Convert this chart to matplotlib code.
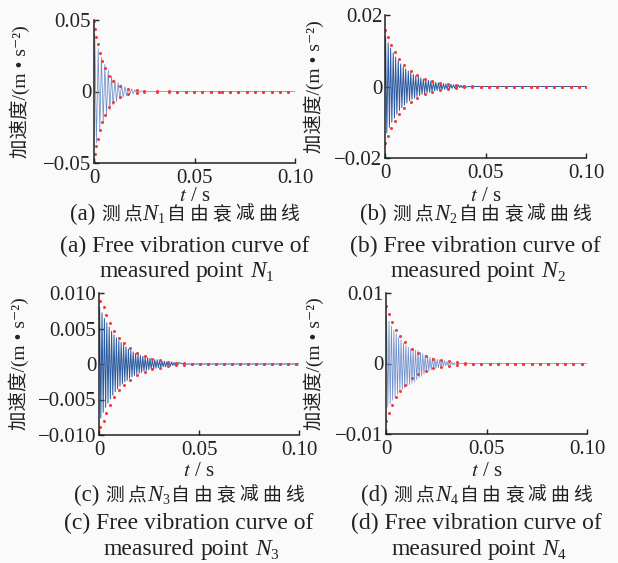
import numpy as np
import matplotlib
matplotlib.use('Agg')
import matplotlib.pyplot as plt

W, H = 618, 563
SERIF = 'Liberation Serif'
CJK = 'Noto Sans CJK SC'

# time in ms, acceleration in m/s^2 (extrema of the free-decay signals)
a_t = [0, 0.4, 1.2, 2.1, 2.9, 3.7, 4.6, 5.4, 6.2, 7.1, 7.9, 8.7, 9.5, 10.4, 11.2, 12.0,
       12.9, 13.7, 14.5, 15.4, 16.2, 17.0, 17.8, 18.7, 19.5, 20.3, 21.2, 22.0, 22.8, 23.7, 25, 100]
a_acc = [0, 0.040, -0.036, 0.030, -0.027, 0.024, -0.021, 0.019, -0.017, 0.015, -0.013, 0.011,
         -0.0095, 0.0082, -0.0071, 0.0062, -0.0053, 0.0046, -0.004, 0.0034, -0.0029, 0.0025,
         -0.0021, 0.0018, -0.0015, 0.0012, -0.001, 0.0008, -0.0006, 0.0004, 0, 0]
a_env_t = [0, 0.5, 1.2, 2.0, 3.0, 4.1, 5.6, 7.5, 9.6, 12.9, 17.1, 21.2, 24.9, 31.2, 37.2,
           41.4, 45.6, 49.7, 53.9, 58.0, 62.2, 63.6, 67.7, 71.8, 76.0, 80.1, 84.3, 88.4, 92.5, 96.7]
a_env = [0.0495, 0.044, 0.038, 0.033, 0.027, 0.0215, 0.0166, 0.0108, 0.0073, 0.0038,
         0.0017, 0.0008, 0.0004, 0.0002, 0.0001, 0, 0, 0, 0, 0, 0, 0, 0, 0, 0, 0, 0, 0, 0, 0]

b_t = [0, 0.3, 0.9, 1.6, 2.2, 2.8, 3.4, 4.1, 4.7, 5.3, 5.9, 6.6, 7.2, 7.8, 8.4, 9.1, 9.7, 10.3,
       10.9, 11.6, 12.2, 12.8, 13.4, 14.1, 14.7, 15.3, 15.9, 16.6, 17.2, 17.8, 18.4, 19.1, 19.7,
       20.3, 20.9, 21.6, 22.2, 22.8, 23.4, 24.1, 24.7, 25.3, 25.9, 26.6, 27.2, 27.8, 28.4, 29.1,
       29.7, 30.3, 30.9, 31.6, 32.2, 32.8, 33.4, 34.1, 34.7, 35.3, 35.9, 36.6, 37.2, 37.8, 38.4,
       39.1, 39.7, 42, 100]
b_acc = [0,
         0.0140, -0.0130, 0.0122, -0.0114, 0.0107, -0.0100, 0.0094, -0.0088, 0.0082, -0.0077,
         0.0072, -0.0067, 0.0063, -0.0059, 0.0055, -0.0052, 0.0049, -0.0046, 0.0043, -0.0040,
         0.0038, -0.0036, 0.0034, -0.0032, 0.0030, -0.0028, 0.0027, -0.0025, 0.0024, -0.0022,
         0.0021, -0.0020, 0.0019, -0.0018, 0.0017, -0.0016, 0.0015, -0.0014, 0.0013, -0.0012,
         0.0012, -0.0011, 0.0010, -0.0010, 0.0009, -0.0009, 0.0008, -0.0008, 0.0007, -0.0007,
         0.0006, -0.0006, 0.0006, -0.0005, 0.0005, -0.0005, 0.0004, -0.0004, 0.0004, -0.0003,
         0.0003, -0.0003, 0.0003, -0.0002,
         0, 0]
b_env_t = [0, 1.3, 3.0, 4.8, 7.1, 9.6, 12.8, 16.1, 19.7, 23.5, 27.4, 31.3, 35.3, 39.3, 43.3,
           47.6, 51.6, 55.8, 60.0, 64.2, 68.3, 72.5, 75.8, 80.0, 84.2, 88.3, 92.5, 96.7, 100.0]
b_env = [0.0158, 0.0138, 0.0117, 0.0096, 0.0077, 0.006, 0.0044, 0.0032, 0.0022, 0.0015,
         0.0011, 0.0007, 0.0004, 0.0002, 0.0001, 0, 0, 0, 0, 0, 0, 0, 0, 0, 0, 0, 0, 0, 0]

c_t = [0, 0.3, 0.9, 1.5, 2.1, 2.7, 3.3, 3.9, 4.5, 5.1, 5.7, 6.3, 6.9, 7.5, 8.1, 8.7, 9.3, 9.9,
       10.5, 11.1, 11.7, 12.3, 12.9, 13.5, 14.1, 14.7, 15.3, 15.9, 16.5, 17.1, 17.7, 18.3, 18.9,
       19.5, 20.1, 20.7, 21.3, 21.9, 22.5, 23.1, 23.7, 24.3, 24.9, 25.5, 26.1, 26.7, 27.3, 27.9,
       28.5, 29.1, 29.7, 30.3, 30.9, 31.5, 32.1, 32.7, 33.3, 33.9, 34.5, 35.1, 35.7, 36.3, 36.9,
       37.5, 38.1, 38.7, 39.3, 39.9, 42, 100]
c_acc = [0,
         0.0080, -0.0076, 0.0072, -0.0068, 0.0064, -0.0061, 0.0058, -0.0055, 0.0052, -0.0049,
         0.0046, -0.0044, 0.0041, -0.0039, 0.0037, -0.0035, 0.0033, -0.0031, 0.0030, -0.0028,
         0.0027, -0.0025, 0.0024, -0.0023, 0.0021, -0.0020, 0.0019, -0.0018, 0.0017, -0.0016,
         0.0015, -0.0014, 0.0014, -0.0013, 0.0012, -0.0012, 0.0011, -0.0010, 0.0010, -0.0009,
         0.0009, -0.0008, 0.0008, -0.0007, 0.0007, -0.0007, 0.0006, -0.0006, 0.0006, -0.0005,
         0.0005, -0.0005, 0.0004, -0.0004, 0.0004, -0.0004, 0.0003, -0.0003, 0.0003, -0.0003,
         0.0003, -0.0002, 0.0002, -0.0002, 0.0002, -0.0002, 0.0002,
         0, 0]
c_env_t = [0, 0.65, 2.3, 3.65, 5.3, 7.5, 9.8, 12.5, 15.5, 19.0, 22.8, 26.7, 30.3, 34.3, 38.3,
           42.3, 46.6, 50.6, 54.6, 58.6, 62.6, 66.6, 70.6, 74.6, 78.6, 82.6, 86.6, 90.6, 94.6, 98.6]
c_env = [0.0100, 0.0089, 0.0080, 0.0069, 0.0058, 0.0047, 0.0037, 0.0029, 0.0023, 0.0016,
         0.0011, 0.0007, 0.0005, 0.0003, 0.0002, 0.0001, 0, 0, 0, 0, 0, 0, 0, 0, 0, 0, 0, 0, 0, 0]

d_t = [0, 0.3, 0.9, 1.5, 2.1, 2.7, 3.3, 3.9, 4.5, 5.1, 5.7, 6.3, 6.9, 7.5, 8.1, 8.7, 9.3, 9.9,
       10.5, 11.1, 11.7, 12.3, 12.9, 13.5, 14.1, 14.7, 15.3, 15.9, 16.5, 17.1, 17.7, 18.3, 18.9,
       19.5, 20.1, 20.7, 21.3, 21.9, 22.5, 23.1, 23.7, 24.3, 24.9, 25.5, 26.1, 26.7, 27.3, 27.9,
       28.5, 29.1, 29.7, 30.3, 30.9, 31.5, 32.1, 32.7, 33.3, 33.9, 34.5, 37, 100]
d_acc = [0,
         0.0068, -0.0062, 0.0060, -0.0057, 0.0053, -0.0052, 0.0047, -0.0048, 0.0042, -0.0044,
         0.0037, -0.0040, 0.0033, -0.0037, 0.0029, -0.0034, 0.0026, -0.0032, 0.0023, -0.0030,
         0.0021, -0.0028, 0.0020, -0.0026, 0.0019, -0.0023, 0.0018, -0.0020, 0.0016, -0.0018,
         0.0014, -0.0015, 0.0012, -0.0013, 0.0010, -0.0011, 0.0009, -0.0009, 0.0008, -0.0008,
         0.0007, -0.0007, 0.0006, -0.0006, 0.0005, -0.0005, 0.0004, -0.0004, 0.0004, -0.0003,
         0.0003, -0.0003, 0.0002, -0.0002, 0.0002, -0.0002, 0.0001, -0.0001,
         0, 0]
d_env_t = [0, 1.3, 3.0, 4.8, 7.1, 9.6, 12.8, 16.1, 19.9, 23.6, 27.4, 31.4, 35.2, 39.4, 43.5,
           47.5, 51.7, 55.8, 60.0, 64.2, 68.3, 72.5, 76.6, 80.7, 84.9, 89.0, 93.2, 97.3]
d_env = [0.0081, 0.0070, 0.0059, 0.0048, 0.0039, 0.0030, 0.0021, 0.0015, 0.0011, 0.0007,
         0.0005, 0.0004, 0.0002, 0.0001, 0, 0, 0, 0, 0, 0, 0, 0, 0, 0, 0, 0, 0, 0]

x_ticks = [0, 0.05, 0.10]
x_ticklabels = ['0', '0.05', '0.10']
a_yticks, a_yticklabels = [-0.05, 0, 0.05], ['\u22120.05', '0', '0.05']
b_yticks, b_yticklabels = [-0.02, 0, 0.02], ['\u22120.02', '0', '0.02']
c_yticks = [-0.01, -0.005, 0, 0.005, 0.01]
c_yticklabels = ['\u22120.010', '\u22120.005', '0', '0.005', '0.010']
d_yticks, d_yticklabels = [-0.01, 0, 0.01], ['\u22120.01', '0', '0.01']

plt.rcParams['mathtext.fontset'] = 'stix'
plt.rcParams['font.family'] = [SERIF, CJK, 'DejaVu Serif']

fig = plt.figure(figsize=(W / 100, H / 100), dpi=100, facecolor='#fafafa')
INK = '#222222'


def px_rect(x0, y0, x1, y1):
    return [x0 / W, 1 - y1 / H, (x1 - x0) / W, (y1 - y0) / H]


def rich_line(cx, base, pieces):
    # lay text pieces side by side, centred on cx (pixels), baseline at base
    r = fig.canvas.get_renderer()
    items = []
    total = 0
    for s, kw, dy, gap in pieces:
        t = fig.text(0, 0, s, va='baseline', ha='left', **kw)
        w = t.get_window_extent(r).width
        items.append((t, w, dy, gap))
        total += w + gap
    total -= items[-1][3]
    x = cx - total / 2
    for t, w, dy, gap in items:
        t.set_position((x / W, 1 - (base + dy) / H))
        x += w + gap


def add_panel(rect, t, acc, env_t, env, yticks, yticklabels, ylabel_x, letter, idx, rows,
              line_color, line_w):
    x0, y0, x1, y1 = rect
    ax = fig.add_axes(px_rect(*rect))
    ax.set_facecolor('#fafafa')
    ax.plot(np.array(t) / 1000, acc, color=line_color, lw=line_w)
    et = np.array(env_t) / 1000
    ev = np.array(env)
    ax.plot(et, ev, 'o', color='#f03c3c', ms=2.2, mew=0)
    ax.plot(et, -ev, 'o', color='#f03c3c', ms=2.2, mew=0)
    ax.set_xlim(0, 0.1)
    ax.set_ylim(yticks[0], yticks[-1])
    ax.set_xticks(x_ticks)
    ax.set_xticklabels(x_ticklabels)
    ax.set_yticks(yticks)
    ax.set_yticklabels(yticklabels)
    for s in ['top', 'right']:
        ax.spines[s].set_visible(False)
    for s in ['left', 'bottom']:
        ax.spines[s].set_linewidth(1.1)
        ax.spines[s].set_color(INK)
    ax.tick_params(direction='in', length=3.5, width=1.0, color=INK, labelsize=15, pad=2)
    ax.tick_params(axis='x', pad=4)
    for lab in ax.get_xticklabels() + ax.get_yticklabels():
        lab.set_family(SERIF)
        lab.set_color(INK)

    cx = (x0 + x1) / 2
    fig.text(cx / W, 1 - rows[0] / H, '$t$ / s', ha='center', va='baseline',
             size=15, color=INK)
    fig.text(ylabel_x / W, 1 - (y0 + y1) / 2 / H, '加速度/(m • s\u207b\u00b2)',
             rotation=90, ha='center', va='center', size=14, color=INK)

    serif = dict(family=SERIF, size=16.5, color=INK)
    serif_it = dict(family=SERIF, size=16.5, style='italic', color=INK)
    sub = dict(family=SERIF, size=10, color=INK)
    cjk = dict(family=CJK, size=13.5, color=INK)
    pieces = [('(%s)' % letter, serif, 0, 6), ('测', cjk, 0, 3), ('点', cjk, 0, 1),
              ('N', serif_it, 0, 0), (idx, sub, 3, 2)]
    for ch in '自由衰减曲线':
        pieces.append((ch, cjk, 0, 4))
    rich_line(cx - 10, rows[1], pieces)

    eng = dict(family=SERIF, size=17, color=INK)
    eng_it = dict(family=SERIF, size=17, style='italic', color=INK)
    eng_sub = dict(family=SERIF, size=11, color=INK)
    rich_line(cx - 10, rows[2], [('(%s) Free vibration curve of' % letter, eng, 0, 0)])
    rich_line(cx - 8, rows[3], [('measured', eng, 0, 6), ('point', eng, 0, 6),
                                ('N', eng_it, 0, 0), (idx, eng_sub, 4, 0)])
    return ax


top_rows = [201, 220, 252, 277]
bot_rows = [476, 501, 529, 555]
add_panel((94, 20, 295, 163), a_t, a_acc, a_env_t, a_env, a_yticks, a_yticklabels,
          20, 'a', '1', top_rows, '#6f8fcc', 0.55)
add_panel((385, 15, 586, 158), b_t, b_acc, b_env_t, b_env, b_yticks, b_yticklabels,
          314, 'b', '2', top_rows, '#2c5aa0', 0.7)
add_panel((99, 293, 299, 435), c_t, c_acc, c_env_t, c_env, c_yticks, c_yticklabels,
          19, 'c', '3', bot_rows, '#2c5aa0', 0.7)
add_panel((386, 293, 587, 434), d_t, d_acc, d_env_t, d_env, d_yticks, d_yticklabels,
          314, 'd', '4', bot_rows, '#6f8fcc', 0.55)

fig.savefig('out.png', dpi=100, facecolor=fig.get_facecolor())
